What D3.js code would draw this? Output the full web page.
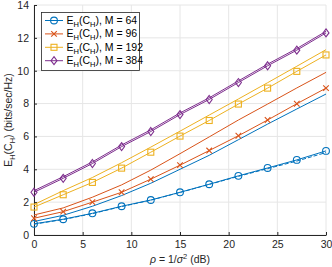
<!DOCTYPE html>
<html>
<head>
<meta charset="utf-8">
<script src="https://cdn.jsdelivr.net/npm/d3@7"></script>
<style>
  body { margin: 0; background: #fff; }
  svg { display: block; font-family: "Liberation Sans", Arial, sans-serif; }
</style>
</head>
<body>
<div id="chart"></div>
<script>
'use strict';

const snr = [0, 3, 6, 9, 12, 15, 18, 21, 24, 27, 30];
const xTicks = [0, 5, 10, 15, 20, 25, 30];
const yTicks = [0, 2, 4, 6, 8, 10, 12, 14];
const labelsM = ['64', '96', '192', '384'];
const colors = ['#0072BD', '#D95319', '#EDB120', '#7E2F8E'];
const markers = ['circle', 'cross', 'square', 'diamond'];

// simulated (with markers)
const sim64  = [0.68, 0.96, 1.32, 1.75, 2.13, 2.6, 3.09, 3.6, 4.08, 4.57, 5.12];
const sim96  = [1.02, 1.42, 2.0, 2.6, 3.4, 4.25, 5.14, 6.04, 7.0, 7.99, 8.94];
const sim192 = [1.7, 2.45, 3.2, 4.07, 5.04, 6.02, 6.97, 7.97, 8.94, 9.96, 10.96];
const sim384 = [2.6, 3.45, 4.35, 5.38, 6.3, 7.33, 8.25, 9.28, 10.3, 11.25, 12.3];
// plain curves
const bnd64  = [0.82, 1.2, 1.75, 2.4, 3.15, 4.0, 4.85, 5.8, 6.75, 7.67, 8.58];
const bnd96  = [1.22, 1.65, 2.3, 3.05, 3.95, 4.95, 5.97, 7.0, 7.97, 8.95, 9.9];
const bnd192 = [1.85, 2.7, 3.5, 4.4, 5.35, 6.32, 7.3, 8.28, 9.27, 10.27, 11.28];
const bnd384 = [2.7, 3.55, 4.45, 5.48, 6.4, 7.43, 8.35, 9.38, 10.4, 11.35, 12.4];
// dashed approximation for M = 64
const apx64  = [0.66, 0.94, 1.3, 1.73, 2.12, 2.59, 3.08, 3.57, 4.04, 4.5, 5.02];

const sims = [sim64, sim96, sim192, sim384];
const bnds = [bnd64, bnd96, bnd192, bnd384];

const width = 332, height = 267;
const margin = {left: 34, right: 6, top: 5, bottom: 32};

const svg = d3.select('#chart').append('svg')
  .attr('width', width)
  .attr('height', height);

const x = d3.scaleLinear().domain([0, 30]).range([margin.left, width - margin.right]);
const y = d3.scaleLinear().domain([0, 14]).range([height - margin.bottom, margin.top]);

// grid
svg.append('g').selectAll('line').data(xTicks).enter().append('line')
  .attr('x1', d => x(d)).attr('x2', d => x(d))
  .attr('y1', y(0)).attr('y2', y(14))
  .attr('stroke', '#e6e6e6').attr('stroke-width', 1);
svg.append('g').selectAll('line').data(yTicks).enter().append('line')
  .attr('x1', x(0)).attr('x2', x(30))
  .attr('y1', d => y(d)).attr('y2', d => y(d))
  .attr('stroke', '#e6e6e6').attr('stroke-width', 1);

// axes
const xAxis = svg.append('g')
  .attr('transform', `translate(0,${y(0)})`)
  .call(d3.axisBottom(x).tickValues(xTicks).tickSizeInner(-3).tickSizeOuter(0).tickPadding(6));
const yAxis = svg.append('g')
  .attr('transform', `translate(${x(0)},0)`)
  .call(d3.axisLeft(y).tickValues(yTicks).tickSizeInner(-3).tickSizeOuter(0).tickPadding(5));
[xAxis, yAxis].forEach(a => {
  a.selectAll('path').attr('stroke', '#262626');
  a.selectAll('line').attr('stroke', '#262626');
  a.selectAll('text').attr('fill', '#262626').style('font-size', '10.5px')
    .style('font-family', '"Liberation Sans", Arial, sans-serif');
});

const line = d3.line().x((d, i) => x(snr[i])).y(d => y(d));

function drawMarker(g, type, cx, cy, color){
  if (type === 'circle') {
    g.append('circle').attr('cx', cx).attr('cy', cy).attr('r', 3.4)
      .attr('fill', 'none').attr('stroke', color).attr('stroke-width', 1.1);
  } else if (type === 'cross') {
    const s = 2.8;
    g.append('path').attr('d', `M${cx-s},${cy-s}L${cx+s},${cy+s}M${cx-s},${cy+s}L${cx+s},${cy-s}`)
      .attr('stroke', color).attr('stroke-width', 1.1).attr('fill', 'none');
  } else if (type === 'square') {
    g.append('rect').attr('x', cx - 3).attr('y', cy - 3).attr('width', 6).attr('height', 6)
      .attr('fill', 'none').attr('stroke', color).attr('stroke-width', 1.1);
  } else {
    const s = 4;
    g.append('path').attr('d', `M${cx},${cy-s}L${cx+s*0.75},${cy}L${cx},${cy+s}L${cx-s*0.75},${cy}Z`)
      .attr('fill', 'none').attr('stroke', color).attr('stroke-width', 1.1);
  }
}

const plot = svg.append('g');

bnds.forEach((vals, k) => {
  plot.append('path').datum(vals).attr('d', line)
    .attr('fill', 'none').attr('stroke', colors[k]).attr('stroke-width', 1);
});

plot.append('path').datum(apx64).attr('d', line)
  .attr('fill', 'none').attr('stroke', colors[0]).attr('stroke-width', 1)
  .attr('stroke-dasharray', '4,2');

sims.forEach((vals, k) => {
  plot.append('path').datum(vals).attr('d', line)
    .attr('fill', 'none').attr('stroke', colors[k]).attr('stroke-width', 1);
  const mg = plot.append('g');
  vals.forEach((v, i) => drawMarker(mg, markers[k], x(snr[i]), y(v), colors[k]));
});

// legend
const lg = svg.append('g');
lg.append('rect').attr('x', 41.5).attr('y', 12.5).attr('width', 98).attr('height', 58)
  .attr('fill', '#fff').attr('stroke', '#262626').attr('stroke-width', 0.8);
labelsM.forEach((m, k) => {
  const ly = 20.5 + k * 13.4;
  lg.append('line').attr('x1', 45).attr('x2', 63).attr('y1', ly).attr('y2', ly)
    .attr('stroke', colors[k]).attr('stroke-width', 1);
  drawMarker(lg, markers[k], 54, ly, colors[k]);
  const t = lg.append('text').attr('x', 66.5).attr('y', ly + 3.5)
    .attr('fill', '#000').style('font-size', '10.5px');
  t.append('tspan').text('E');
  t.append('tspan').attr('dy', 3).style('font-size', '7.5px').text('H');
  t.append('tspan').attr('dy', -3).text('(C');
  t.append('tspan').attr('dy', 3).style('font-size', '7.5px').text('H');
  t.append('tspan').attr('dy', -3).text(`), M = ${m}`);
});

// y label
const yl = svg.append('text')
  .attr('transform', `translate(12,${(y(0) + y(14)) / 2}) rotate(-90)`)
  .attr('text-anchor', 'middle').attr('fill', '#262626').style('font-size', '10.5px');
yl.append('tspan').text('E');
yl.append('tspan').attr('dy', 3).style('font-size', '7.5px').text('H');
yl.append('tspan').attr('dy', -3).text('(C');
yl.append('tspan').attr('dy', 3).style('font-size', '7.5px').text('H');
yl.append('tspan').attr('dy', -3).text(') (bits/sec/Hz)');

// x label
const xl = svg.append('text')
  .attr('x', (x(0) + x(30)) / 2).attr('y', 263)
  .attr('text-anchor', 'middle').attr('fill', '#262626').style('font-size', '10.5px');
xl.append('tspan').style('font-style', 'italic').text('ρ');
xl.append('tspan').text(' = 1/');
xl.append('tspan').style('font-style', 'italic').text('σ');
xl.append('tspan').attr('dy', -4).style('font-size', '7.5px').text('2');
xl.append('tspan').attr('dy', 4).text(' (dB)');
</script>
</body>
</html>
